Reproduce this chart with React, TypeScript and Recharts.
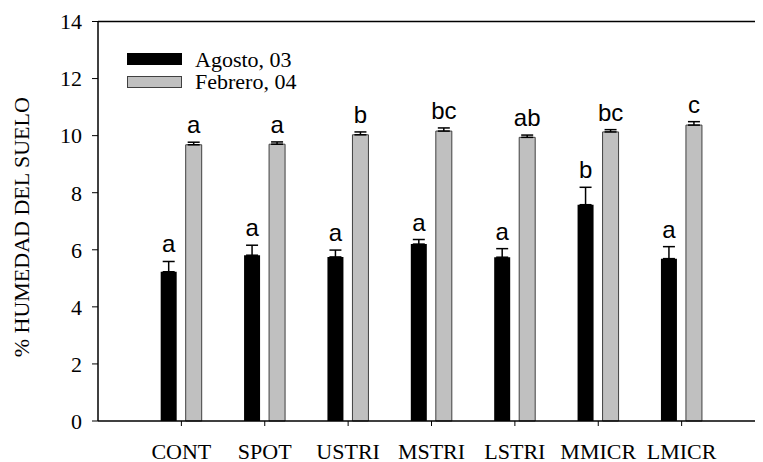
import { BarChart, Bar, XAxis, YAxis, ErrorBar, LabelList, Legend, ReferenceLine } from 'recharts';

// Soil moisture per treatment, two sampling dates
const categories = ['CONT', 'SPOT', 'USTRI', 'MSTRI', 'LSTRI', 'MMICR', 'LMICR'];
const agosto = [5.23, 5.81, 5.75, 6.2, 5.74, 7.58, 5.69];
const agostoErr = [0.36, 0.35, 0.24, 0.16, 0.3, 0.61, 0.42];
const febrero = [9.68, 9.7, 10.03, 10.16, 9.94, 10.13, 10.37];
const febreroErr = [0.09, 0.08, 0.1, 0.11, 0.08, 0.08, 0.12];
const agostoLetters = ['a', 'a', 'a', 'a', 'a', 'b', 'a'];
const febreroLetters = ['a', 'a', 'b', 'bc', 'ab', 'bc', 'c'];
const yTicks = [0, 2, 4, 6, 8, 10, 12, 14];
const xTicks = categories.map((_, i) => i + 1);

const data = categories.map((name, i) => ({
  name,
  pos: i + 1,
  agosto: agosto[i],
  agostoErr: [0, agostoErr[i]],
  febrero: febrero[i],
  febreroErr: [0, febreroErr[i]],
}));

const serif = '"Liberation Serif", "Times New Roman", serif';
const sans = '"Liberation Sans", Arial, sans-serif';

// letter sits a few px above the error bar cap
const letterLabel = (letters: string[], errs: number[]) => (props: any) => {
  const { x, y, width, height, value, index } = props;
  const pxPerUnit = height / value;
  const errTop = y - errs[index] * pxPerUnit;
  return (
    <text
      x={x + width / 2}
      y={errTop - 9}
      textAnchor="middle"
      fontFamily={sans}
      fontSize={24}
      fill="#000"
    >
      {letters[index]}
    </text>
  );
};

const renderLegend = () => (
  <svg width={200} height={44}>
    <rect x={0} y={0} width={55} height={12} fill="#000" />
    <text x={68} y={14} fontFamily={serif} fontSize={22} fill="#000">Agosto, 03</text>
    <rect x={0.5} y={23.5} width={54} height={11} fill="#c0c0c0" stroke="#404040" />
    <text x={68} y={36} fontFamily={serif} fontSize={22} fill="#000">Febrero, 04</text>
  </svg>
);

const renderYLabel = (props: any) => {
  const { viewBox } = props;
  const cx = 20.5;
  const cy = viewBox.y + viewBox.height / 2 + 6;
  return (
    <text
      x={cx}
      y={cy}
      transform={`rotate(-90, ${cx}, ${cy})`}
      textAnchor="middle"
      fontFamily={serif}
      fontSize={22}
      fill="#000"
    >
      % HUMEDAD DEL SUELO
    </text>
  );
};

export default function App() {
  return (
    <div style={{ width: 755, height: 454, overflow: 'hidden', position: 'relative' }}>
      <BarChart
        width={790}
        height={454}
        data={data}
        margin={{ top: 13.5, right: 33, bottom: 0, left: 0 }}
        barGap={9}
      >
        <XAxis
          type="number"
          dataKey="pos"
          domain={[0, 8]}
          ticks={xTicks}
          interval={0}
          tickFormatter={(v) => categories[v - 1] ?? ''}
          height={41}
          tickSize={5}
          tickMargin={17}
          axisLine={{ stroke: '#000', strokeWidth: 1.5 }}
          tickLine={{ stroke: '#000' }}
          tick={{ fill: '#000', fontSize: 22, fontFamily: serif }}
        />
        <YAxis
          domain={[0, 14]}
          ticks={yTicks}
          width={90}
          tickSize={6}
          tickMargin={10}
          axisLine={{ stroke: '#000', strokeWidth: 1.5 }}
          tickLine={{ stroke: '#000' }}
          tick={{ fill: '#000', fontSize: 22, fontFamily: serif }}
          label={{ content: renderYLabel }}
        />
        <ReferenceLine y={14} stroke="#000" strokeWidth={1.5} />
        <ReferenceLine x={8} stroke="#000" strokeWidth={1.5} />
        <Legend
          content={renderLegend}
          layout="horizontal"
          verticalAlign="middle"
          align="center"
          wrapperStyle={{ position: 'absolute', left: 119, top: 45, width: 200, height: 44 }}
        />
        <Bar dataKey="agosto" fill="#000" barSize={16} isAnimationActive={false}>
          <ErrorBar dataKey="agostoErr" direction="y" width={6} stroke="#000" strokeWidth={1.5} />
          <LabelList dataKey="agosto" content={letterLabel(agostoLetters, agostoErr)} />
        </Bar>
        <Bar dataKey="febrero" fill="#c0c0c0" stroke="#404040" strokeWidth={1} barSize={16} isAnimationActive={false}>
          <ErrorBar dataKey="febreroErr" direction="y" width={6} stroke="#000" strokeWidth={1.5} />
          <LabelList dataKey="febrero" content={letterLabel(febreroLetters, febreroErr)} />
        </Bar>
      </BarChart>
    </div>
  );
}
